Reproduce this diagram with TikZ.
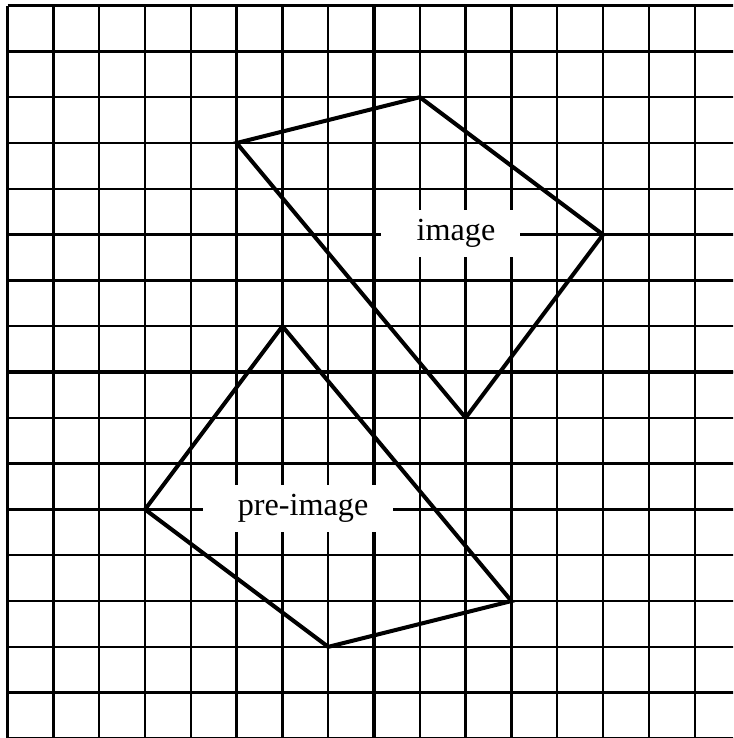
\documentclass[tikz,border=0pt]{standalone}
\usepackage{fontspec}
\setmainfont{Liberation Serif}
\begin{document}
\begin{tikzpicture}[x=1cm,y=1cm,
  gridline/.style={line width=1.45pt},
  axisline/.style={line width=3pt},
  shapeline/.style={line width=2.5pt, line join=miter},
  lbl/.style={fill=white, font=\fontsize{20}{24}\selectfont, inner xsep=0.53cm, inner ysep=0pt, minimum height=1.03cm}]
\useasboundingbox (-8.166,-7.99) rectangle (7.838,8.122);
\begin{scope}
\clip (-8.166,-7.99) rectangle (7.838,8.122);
\foreach \i in {-8,...,8} {
  \draw[gridline] (\i,-8) -- (\i,8);
  \draw[gridline] (-8,\i) -- (8,\i);
}
\draw[axisline] (-8,0) -- (8,0);
\draw[axisline] (0,-8) -- (0,8);
\end{scope}
\node[lbl] (imglbl) at (1.67,3.02) {\hspace{0.24cm}image};
\node[lbl] (prelbl) at (-1.67,-2.98) {\hspace{0.24cm}pre-image};
\coordinate (A) at (-3,5);
\coordinate (B) at (1,6);
\coordinate (C) at (5,3);
\coordinate (D) at (2,-1);
\coordinate (P) at (-2,1);
\coordinate (Q) at (-5,-3);
\coordinate (R) at (-1,-6);
\coordinate (S) at (3,-5);
\draw[shapeline] (A) -- (B) -- (C) -- (D) -- cycle;
\draw[shapeline] (P) -- (Q) -- (R) -- (S) -- cycle;
\end{tikzpicture}
\end{document}
